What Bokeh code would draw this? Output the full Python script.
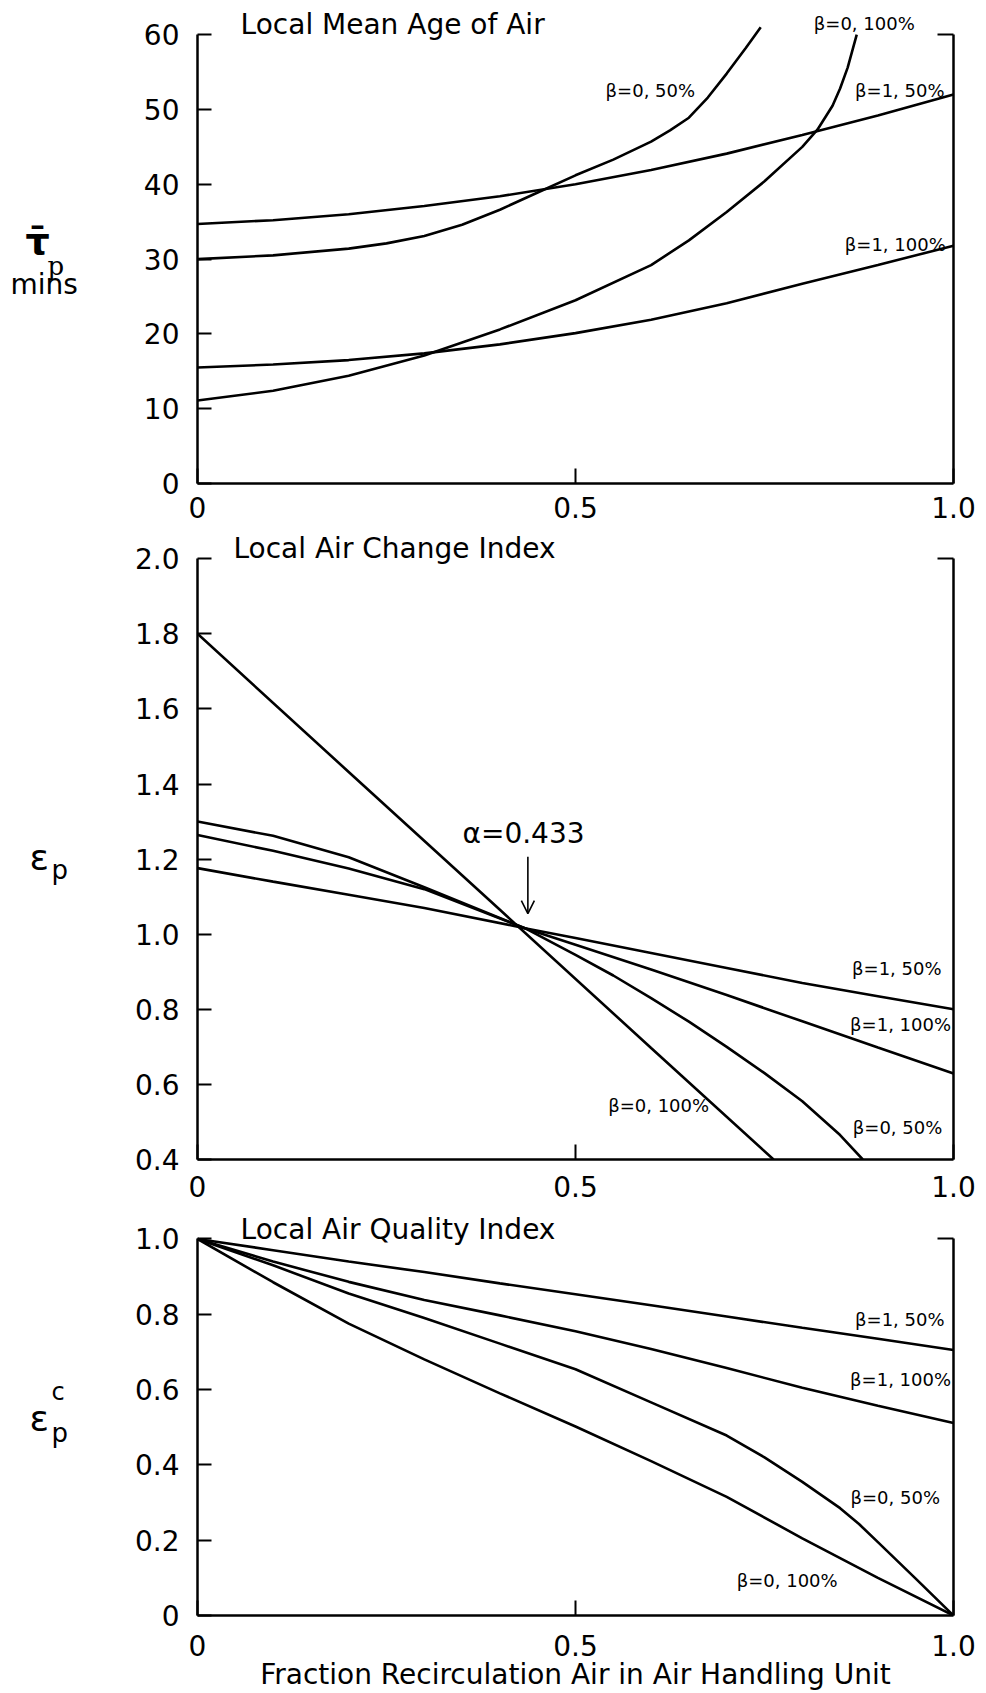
from bokeh.plotting import figure
from bokeh.models import (LinearAxis, FixedTicker, Label, Range1d, Arrow, OpenHead,
                          CustomLabelingPolicy)
from bokeh.layouts import column, row
from bokeh.core.properties import value
from bokeh.embed import file_html
from bokeh.resources import INLINE

FONT = "DejaVu Sans"

# ---------------- data ----------------
x_ticks = [0, 0.5, 1.0]
x_tick_labels = ["0", "0.5", "1.0"]
x_title = "Fraction Recirculation Air in Air Handling Unit"
series_names = ["β=0, 100%", "β=0, 50%", "β=1, 50%", "β=1, 100%"]

# Panel 1: Local Mean Age of Air (minutes)
age_title = "Local Mean Age of Air"
age_ticks = [0, 10, 20, 30, 40, 50, 60]
age_tick_labels = ["0", "10", "20", "30", "40", "50", "60"]
age_x_b0_100 = [0, 0.1, 0.2, 0.3, 0.4, 0.5, 0.6, 0.65, 0.7, 0.75, 0.8, 0.82, 0.84, 0.85, 0.86, 0.872]
age_b0_100 = [11.1, 12.4, 14.4, 17.1, 20.6, 24.5, 29.2, 32.5, 36.3, 40.4, 45.0, 47.3, 50.5, 52.8, 55.6, 60.0]
age_x_b0_50 = [0, 0.1, 0.2, 0.25, 0.3, 0.35, 0.4, 0.45, 0.5, 0.55, 0.6, 0.625, 0.65, 0.675, 0.7, 0.725, 0.745]
age_b0_50 = [30.0, 30.5, 31.4, 32.1, 33.1, 34.6, 36.6, 38.9, 41.2, 43.3, 45.7, 47.2, 48.9, 51.6, 54.8, 58.2, 61.0]
age_x = [0, 0.1, 0.2, 0.3, 0.4, 0.5, 0.6, 0.7, 0.8, 0.9, 1.0]
age_b1_50 = [34.7, 35.2, 36.0, 37.1, 38.4, 40.0, 41.9, 44.1, 46.6, 49.2, 52.0]
age_b1_100 = [15.5, 15.9, 16.5, 17.4, 18.6, 20.1, 21.9, 24.1, 26.7, 29.2, 31.8]

# Panel 2: Local Air Change Index
ach_title = "Local Air Change Index"
ach_ticks = [0.4, 0.6, 0.8, 1.0, 1.2, 1.4, 1.6, 1.8, 2.0]
ach_tick_labels = ["0.4", "0.6", "0.8", "1.0", "1.2", "1.4", "1.6", "1.8", "2.0"]
alpha_crit = 0.433
ach_x_b0_100 = [0, 0.2, 0.4, 0.6, 0.762]
ach_b0_100 = [1.80, 1.432, 1.065, 0.697, 0.40]
ach_x_b0_50 = [0, 0.1, 0.2, 0.3, 0.433, 0.5, 0.55, 0.6, 0.65, 0.7, 0.75, 0.8, 0.85, 0.88]
ach_b0_50 = [1.300, 1.262, 1.205, 1.125, 1.016, 0.945, 0.89, 0.83, 0.767, 0.70, 0.63, 0.555, 0.465, 0.40]
ach_x = [0, 0.1, 0.2, 0.3, 0.433, 0.5, 0.6, 0.7, 0.8, 0.9, 1.0]
ach_b1_100 = [1.264, 1.222, 1.175, 1.12, 1.016, 0.972, 0.906, 0.838, 0.768, 0.698, 0.629]
ach_b1_50 = [1.176, 1.14, 1.105, 1.07, 1.016, 0.99, 0.95, 0.91, 0.87, 0.835, 0.80]

# Panel 3: Local Air Quality Index
aqi_title = "Local Air Quality Index"
aqi_ticks = [0, 0.2, 0.4, 0.6, 0.8, 1.0]
aqi_tick_labels = ["0", "0.2", "0.4", "0.6", "0.8", "1.0"]
aqi_x = [0, 0.1, 0.2, 0.3, 0.4, 0.5, 0.6, 0.7, 0.8, 0.9, 1.0]
aqi_b1_50 = [1.0, 0.970, 0.940, 0.912, 0.882, 0.853, 0.824, 0.794, 0.764, 0.735, 0.705]
aqi_b1_100 = [1.0, 0.940, 0.886, 0.838, 0.797, 0.755, 0.708, 0.657, 0.605, 0.557, 0.511]
aqi_x_b0_50 = [0, 0.1, 0.2, 0.3, 0.4, 0.5, 0.6, 0.7, 0.75, 0.8, 0.85, 0.875, 0.9, 0.95, 1.0]
aqi_b0_50 = [1.0, 0.930, 0.855, 0.790, 0.722, 0.654, 0.566, 0.478, 0.420, 0.355, 0.285, 0.243, 0.195, 0.098, 0.0]
aqi_b0_100 = [1.0, 0.885, 0.775, 0.680, 0.590, 0.502, 0.410, 0.315, 0.205, 0.100, 0.0]

# y-axis names (text, font, size, weight) drawn in a strip to the left of the panels
ylab_texts = ["τ\u0304", "p", "mins", "ε", "p", "ε", "c", "p"]
ylab_fonts = [FONT, "DejaVu Serif", FONT, FONT, FONT, FONT, FONT, FONT]
ylab_sizes = ["38px", "26px", "28px", "36px", "26px", "36px", "24px", "26px"]
ylab_styles = ["bold", "normal", "normal", "normal", "normal", "normal", "normal", "normal"]
ylab_x = [25, 47, 10, 29, 51, 29, 51, 51]
ylab_y = [240, 265, 284, 857, 869, 1418, 1391, 1432]

PAGE_H = 1693
STRIP_W = 108
MAIN_W = 878
LEFT_B = 89
RIGHT_B = 33

no_labels = CustomLabelingPolicy(code="return new Set()")


def make_panel(height, bottom_border, y_lo, y_hi, y_top, yticks, ylabels, std):
    p = figure(width=MAIN_W, height=height, x_range=Range1d(0, 1), y_range=Range1d(y_lo, y_hi),
               output_backend="svg", toolbar_location=None,
               x_axis_type=None, y_axis_type=None,
               min_border_left=LEFT_B, min_border_right=RIGHT_B, min_border_top=0,
               min_border_bottom=bottom_border)
    p.outline_line_color = None
    p.background_fill_color = "white"
    p.border_fill_color = "white"

    common = dict(axis_line_width=2.5, axis_line_color="black",
                  major_tick_line_width=2, major_tick_line_color="black",
                  major_tick_out=0, minor_tick_in=0, minor_tick_out=0,
                  major_label_text_font=FONT, major_label_text_font_size="28px",
                  major_label_text_color="black")

    xa = LinearAxis(ticker=FixedTicker(ticks=x_ticks),
                    major_label_overrides={t: s for t, s in zip(x_ticks, x_tick_labels)},
                    major_tick_in=15, major_label_standoff=std, **common)
    p.add_layout(xa, "below")

    ya = LinearAxis(ticker=FixedTicker(ticks=yticks), bounds=(y_lo, y_top),
                    major_label_overrides={t: s for t, s in zip(yticks, ylabels)},
                    major_tick_in=14, major_label_standoff=18, **common)
    p.add_layout(ya, "left")

    ra = LinearAxis(ticker=FixedTicker(ticks=[y_top]), bounds=(y_lo, y_top),
                    major_tick_in=16, major_label_standoff=0,
                    major_label_policy=no_labels, **common)
    ra.major_label_text_font_size = "0px"
    p.add_layout(ra, "right")
    return p, xa


def lab(p, x, y, text, size="18px", align="center", baseline="middle", font=FONT):
    p.add_layout(Label(x=x, y=y, text=text, text_font=font, text_font_size=size,
                       text_align=align, text_baseline=baseline, text_color="black"))


LW = 2.6

# ---------- panel 1 ----------
p1, _ = make_panel(529, 46, 0, 483 / 7.48, 60, age_ticks, age_tick_labels, 13)
p1.line(age_x_b0_100, age_b0_100, line_color="black", line_width=LW)
p1.line(age_x_b0_50, age_b0_50, line_color="black", line_width=LW)
p1.line(age_x, age_b1_50, line_color="black", line_width=LW)
p1.line(age_x, age_b1_100, line_color="black", line_width=LW)
lab(p1, 0.057, 61.3, age_title, size="28px", align="left", baseline="alphabetic")
lab(p1, 0.882, 61.45, series_names[0])
lab(p1, 0.599, 52.6, series_names[1])
lab(p1, 0.929, 52.6, series_names[2])
lab(p1, 0.923, 31.9, series_names[3])

# ---------- panel 2 ----------
p2, _ = make_panel(676, 46, 0.4, 0.4 + 630 / 375.5, 2.0, ach_ticks, ach_tick_labels, 16)
p2.line(ach_x_b0_100, ach_b0_100, line_color="black", line_width=LW)
p2.line(ach_x_b0_50, ach_b0_50, line_color="black", line_width=LW)
p2.line(ach_x, ach_b1_100, line_color="black", line_width=LW)
p2.line(ach_x, ach_b1_50, line_color="black", line_width=LW)
lab(p2, 0.0476, 2.027, ach_title, size="28px", align="left", baseline="alphabetic")
lab(p2, 0.925, 0.908, series_names[2])
lab(p2, 0.930, 0.760, series_names[3])
lab(p2, 0.610, 0.545, series_names[0])
lab(p2, 0.926, 0.486, series_names[1])
lab(p2, 0.3505, 1.269, "α=%s" % alpha_crit, size="28px", align="left", baseline="alphabetic")
p2.add_layout(Arrow(end=OpenHead(size=13, line_width=1.6, line_color="black"),
                    x_start=0.437, y_start=1.206, x_end=0.437, y_end=1.055,
                    line_width=1.6, line_color="black"))

# ---------- panel 3 ----------
p3, xa3 = make_panel(488, 76, 0, 412 / 378.4, 1.0, aqi_ticks, aqi_tick_labels, 19)
xa3.axis_label = x_title
xa3.axis_label_text_font = FONT
xa3.axis_label_text_font_size = "28px"
xa3.axis_label_text_font_style = "normal"
xa3.axis_label_text_color = "black"
xa3.axis_label_standoff = -1
p3.line(aqi_x, aqi_b1_50, line_color="black", line_width=LW)
p3.line(aqi_x, aqi_b1_100, line_color="black", line_width=LW)
p3.line(aqi_x_b0_50, aqi_b0_50, line_color="black", line_width=LW)
p3.line(aqi_x, aqi_b0_100, line_color="black", line_width=LW)
lab(p3, 0.057, 1.026, aqi_title, size="28px", align="left", baseline="alphabetic")
lab(p3, 0.929, 0.787, series_names[2])
lab(p3, 0.930, 0.628, series_names[3])
lab(p3, 0.923, 0.314, series_names[1])
lab(p3, 0.780, 0.094, series_names[0])

# ---------- left strip with y-axis names ----------
strip = figure(width=STRIP_W, height=PAGE_H, x_range=Range1d(0, STRIP_W),
               y_range=Range1d(PAGE_H, 0), output_backend="svg", toolbar_location=None,
               x_axis_type=None, y_axis_type=None, min_border=0)
strip.outline_line_color = None
strip.grid.visible = False
for t, f, s, st, xx, yy in zip(ylab_texts, ylab_fonts, ylab_sizes, ylab_styles, ylab_x, ylab_y):
    strip.text(x=[xx], y=[yy], text=[t], text_font=value(f), text_font_size=value(s),
               text_font_style=st, text_align="left", text_baseline="alphabetic",
               text_color="black")

layout = row(strip, column(p1, p2, p3, spacing=0), spacing=0)
open("out.html", "w").write(file_html(layout, INLINE))
